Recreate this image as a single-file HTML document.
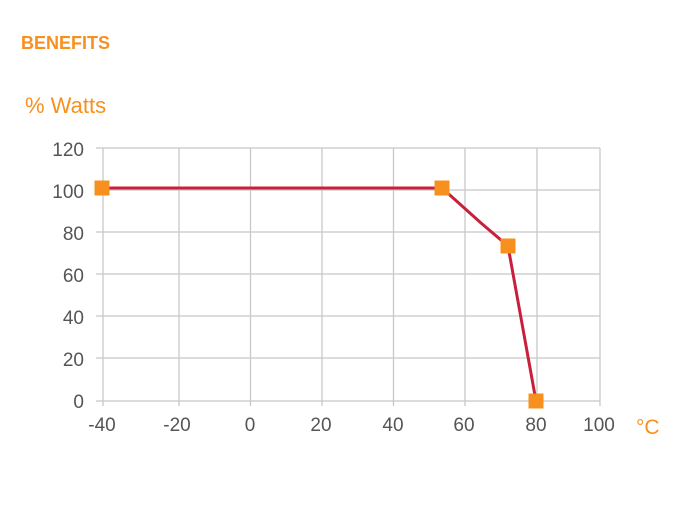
<!DOCTYPE html>
<html><head><style>
body{margin:0;background:#fff;width:692px;height:515px;overflow:hidden;font-family:"Liberation Sans",sans-serif}
</style></head><body>
<svg width="692" height="515" xmlns="http://www.w3.org/2000/svg" font-family="Liberation Sans, sans-serif">
<text x="21" y="49" fill="#f7901e" font-size="18" font-weight="bold">BENEFITS</text>
<text x="25" y="113" fill="#f7901e" font-size="22">% Watts</text>
<text x="636" y="434" fill="#f7901e" font-size="21">°C</text>
<g stroke="#c8c8c8" stroke-width="1.3">
<line x1="96" y1="148" x2="600" y2="148"/><line x1="96" y1="190" x2="600" y2="190"/>
<line x1="96" y1="232" x2="600" y2="232"/><line x1="96" y1="274" x2="600" y2="274"/>
<line x1="96" y1="316" x2="600" y2="316"/><line x1="96" y1="358" x2="600" y2="358"/>
<line x1="96" y1="401" x2="600" y2="401"/>
<line x1="103" y1="148" x2="103" y2="406"/><line x1="179" y1="148" x2="179" y2="406"/>
<line x1="250.5" y1="148" x2="250.5" y2="406"/><line x1="322" y1="148" x2="322" y2="406"/>
<line x1="393.5" y1="148" x2="393.5" y2="406"/><line x1="465" y1="148" x2="465" y2="406"/>
<line x1="537" y1="148" x2="537" y2="406"/><line x1="600" y1="148" x2="600" y2="406"/>
</g>
<g fill="#555" font-size="19" text-anchor="end">
<text x="84" y="156">120</text><text x="84" y="198">100</text><text x="84" y="240">80</text>
<text x="84" y="282">60</text><text x="84" y="324">40</text><text x="84" y="366">20</text><text x="84" y="408">0</text>
</g>
<g fill="#555" font-size="19" text-anchor="middle">
<text x="102" y="431">-40</text><text x="177" y="431">-20</text><text x="250" y="431">0</text>
<text x="321" y="431">20</text><text x="393" y="431">40</text><text x="464" y="431">60</text>
<text x="536" y="431">80</text><text x="599" y="431">100</text>
</g>
<polyline points="102,188 442,188 481,223 508,246 536,401" fill="none" stroke="#c8203c" stroke-width="3"/>
<g fill="#f7901e">
<rect x="94.5" y="180.5" width="15" height="15"/><rect x="434.5" y="180.5" width="15" height="15"/>
<rect x="500.5" y="238.5" width="15" height="15"/><rect x="528.5" y="393.5" width="15" height="15"/>
</g>
</svg>
</body></html>
